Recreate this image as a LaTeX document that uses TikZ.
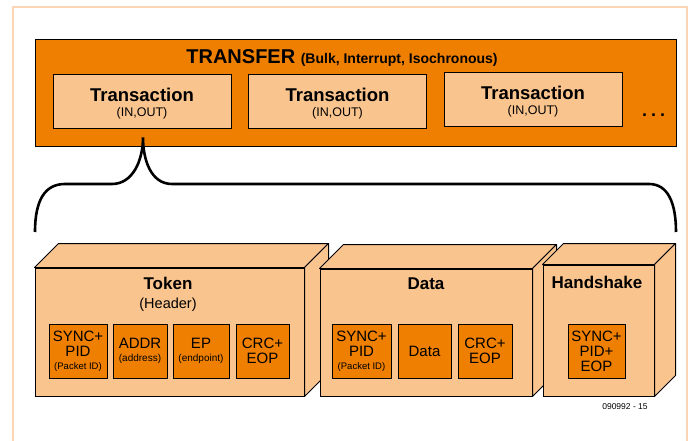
\documentclass[tikz,border=0pt]{standalone}
\usepackage{fontspec}
\setmainfont{Liberation Sans}
\usetikzlibrary{calc}
\definecolor{dunkelorange}{RGB}{238,127,0}
\definecolor{hellorange}{RGB}{249,196,142}
\definecolor{rahmenorange}{RGB}{252,214,180}
\tikzset{
    uebertragung/.style={
        rectangle,
        draw=black,
        fill=dunkelorange,
        line width=1pt,
        inner sep=0pt
    },
    transaktion/.style={
        rectangle,
        draw=black,
        fill=hellorange,
        line width=1pt,
        minimum width=178pt,
        minimum height=54pt,
        inner sep=0pt,
        align=center
    },
    paket/.style={
        rectangle,
        draw=black,
        fill=hellorange,
        line width=1pt,
        inner sep=0pt
    },
    seite/.style={
        draw=black,
        fill=hellorange,
        line width=1pt,
        line join=round
    },
    feld/.style={
        rectangle,
        draw=black,
        fill=dunkelorange,
        line width=1pt,
        minimum width=57pt,
        minimum height=54pt,
        inner sep=0pt,
        align=center,
        font=\fontsize{15}{15}\selectfont
    },
    titel/.style={
        align=center,
        font=\bfseries\fontsize{17}{18}\selectfont
    },
    klammer/.style={
        draw=black,
        line width=2.6pt
    }
}

\begin{document}
\begin{tikzpicture}[x=1pt, y=-1pt]

    \useasboundingbox (0,0) rectangle (699,441);

    % Heller Rahmen um das ganze Bild
    \draw[rahmenorange, line width=1.5pt] (13,441) -- (13,7) -- (687,7) -- (687,441);

    % Transfer-Kasten oben
    \node[uebertragung, minimum width=641pt, minimum height=107pt] (transfer) at (355.5,93.5) {};
    \node (transfertitel) at (342,58)
        {\bfseries\fontsize{20}{20}\selectfont TRANSFER \fontsize{14}{14}\selectfont(Bulk, Interrupt, Isochronous)};

    % Drei Transaktionen
    \node[transaktion] (T1) at (142,102) {\rule{0pt}{17.5pt}{\bfseries\fontsize{18.5}{17}\selectfont Transaction}\\[3pt]{\fontsize{12.5}{12}\selectfont (IN,OUT)}};
    \node[transaktion] (T2) at (337.5,102) {\rule{0pt}{17.5pt}{\bfseries\fontsize{18.5}{17}\selectfont Transaction}\\[3pt]{\fontsize{12.5}{12}\selectfont (IN,OUT)}};
    \node[transaktion] (T3) at (533,100) {\rule{0pt}{17.5pt}{\bfseries\fontsize{18.5}{17}\selectfont Transaction}\\[3pt]{\fontsize{12.5}{12}\selectfont (IN,OUT)}};

    % Punkte rechts
    \node (punkte) at (653.5,115) {\bfseries\fontsize{18}{18}\selectfont .\hspace{4pt}.\hspace{4pt}.};

    % Geschweifte Klammer
    \coordinate (spitze) at ($(T1.south)+(1,8)$);
    \coordinate (klammerlinks) at (35,232);
    \coordinate (klammerrechts) at (676,232);
    \draw[klammer] (klammerlinks) .. controls (35,200) and (45,184) .. (65,184) -- (112,184)
        .. controls (133,184) and (143,160) .. (spitze)
        .. controls (143,160) and (151,184) .. (172,184) -- (649,184)
        .. controls (668,184) and (676,203) .. (klammerrechts);

    % Token-Paket
    \node[paket, minimum width=269pt, minimum height=128pt] (token) at (169.5,332) {};
    \draw[seite] (token.north west) -- ++(24,-24) -- ($(token.north east)+(24,-24)$) -- (token.north east) -- cycle;
    \draw[seite] (token.north east) -- ++(24,-24) -- ($(token.south east)+(24,-24)$) -- (token.south east) -- cycle;
    \node[titel] (tokentitel) at (168,294) {Token\\[1pt]{\mdseries\fontsize{14.5}{14}\selectfont (Header)}};

    % Data-Paket
    \node[paket, minimum width=212pt, minimum height=127pt] (data) at (426,332.5) {};
    \draw[seite] (data.north west) -- ++(24,-24) -- ($(data.north east)+(24,-24)$) -- (data.north east) -- cycle;
    \draw[seite] (data.north east) -- ++(24,-24) -- ($(data.south east)+(24,-24)$) -- (data.south east) -- cycle;
    \node[titel] (datatitel) at (426,284) {Data};

    % Handshake-Paket
    \node[paket, minimum width=111pt, minimum height=131pt] (handshake) at (598.5,330.5) {};
    \draw[seite] (handshake.north west) -- ++(21,-21) -- ($(handshake.north east)+(21,-21)$) -- (handshake.north east) -- cycle;
    \draw[seite] (handshake.north east) -- ++(21,-21) -- ($(handshake.south east)+(21,-21)$) -- (handshake.south east) -- cycle;
    \node[titel] (handshaketitel) at (597,282) {Handshake};

    % Felder im Token
    \node[feld, minimum width=58pt] (tsync) at (78,351) {SYNC+\\PID\\[-2pt]{\fontsize{9.5}{10}\selectfont (Packet ID)}};
    \node[feld, minimum width=54pt] (taddr) at (140,351) {ADDR\\[-2pt]{\fontsize{10}{10}\selectfont (address)}};
    \node[feld, minimum width=56pt] (tep) at (201,351) {EP\\[-2pt]{\fontsize{10}{10}\selectfont (endpoint)}};
    \node[feld, minimum width=53pt] (tcrc) at (262.5,351) {CRC+\\EOP};

    % Felder im Data-Paket
    \node[feld, minimum width=59pt] (dsync) at (361.5,351) {SYNC+\\PID\\[-2pt]{\fontsize{9.5}{10}\selectfont (Packet ID)}};
    \node[feld, minimum width=53pt] (ddata) at (424.5,351) {Data};
    \node[feld, minimum width=54pt] (dcrc) at (485,351) {CRC+\\EOP};

    % Feld im Handshake
    \node[feld, minimum width=57pt] (hsync) at (596.5,351) {SYNC+\\PID+\\EOP};

    % Bildnummer
    \node (nummer) at (625,407) {\fontsize{8.5}{9}\selectfont 090992 - 15};

\end{tikzpicture}
\end{document}
